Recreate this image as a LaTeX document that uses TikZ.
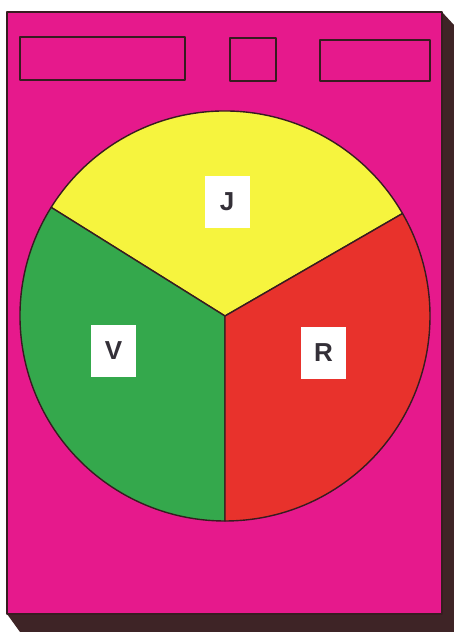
\documentclass[tikz,border=0pt]{standalone}
\usepackage{fontspec}
\setsansfont{Liberation Sans}
\usetikzlibrary{positioning}
\definecolor{facecol}{RGB}{230,25,140}
\definecolor{shadecol}{RGB}{62,36,38}
\definecolor{sectJ}{RGB}{246,244,62}
\definecolor{sectV}{RGB}{52,168,76}
\definecolor{sectR}{RGB}{232,50,44}
\definecolor{inkcol}{RGB}{55,28,32}
\definecolor{labtext}{RGB}{52,48,56}
\tikzset{
  rim/.style={draw=inkcol,line width=1.8pt,line join=round},
  slot/.style={rim,fill=none},
  sector/.style={draw=inkcol,line width=1.4pt,line join=round},
  tag/.style={rectangle,fill=white,draw=none,minimum width=45pt,
              minimum height=52pt,inner sep=0pt,text=labtext,
              font=\sffamily\bfseries\fontsize{26}{26}\selectfont},
}
\begin{document}
\begin{tikzpicture}[x=1pt,y=1pt]
  \useasboundingbox (0,0) rectangle (454,632);
  % depth of the box
  \fill[shadecol] (442,620) -- (454,607) -- (454,0) -- (20,0) -- (7,18) -- cycle;
  % front face
  \draw[rim,fill=facecol] (7,18) rectangle (442,620);
  % slots on top
  \draw[slot] (20,552) rectangle (185,595);
  \draw[slot] (230,551) rectangle (276,594);
  \draw[slot] (320,551) rectangle (430,592);
  % dial
  \coordinate (O) at (225,316);
  \def\rad{205}
  \filldraw[sector,fill=sectJ] (O) -- ++(30:\rad)
    arc[start angle=30,end angle=148,radius=\rad] -- cycle;
  \filldraw[sector,fill=sectV] (O) -- ++(148:\rad)
    arc[start angle=148,end angle=270,radius=\rad] -- cycle;
  \filldraw[sector,fill=sectR] (O) -- ++(270:\rad)
    arc[start angle=270,end angle=390,radius=\rad] -- cycle;
  \node[tag] (j) at (227,430) {J};
  \node[tag] (v) at (113.5,281) {V};
  \node[tag] (r) at (323.5,279) {R};
\end{tikzpicture}
\end{document}
